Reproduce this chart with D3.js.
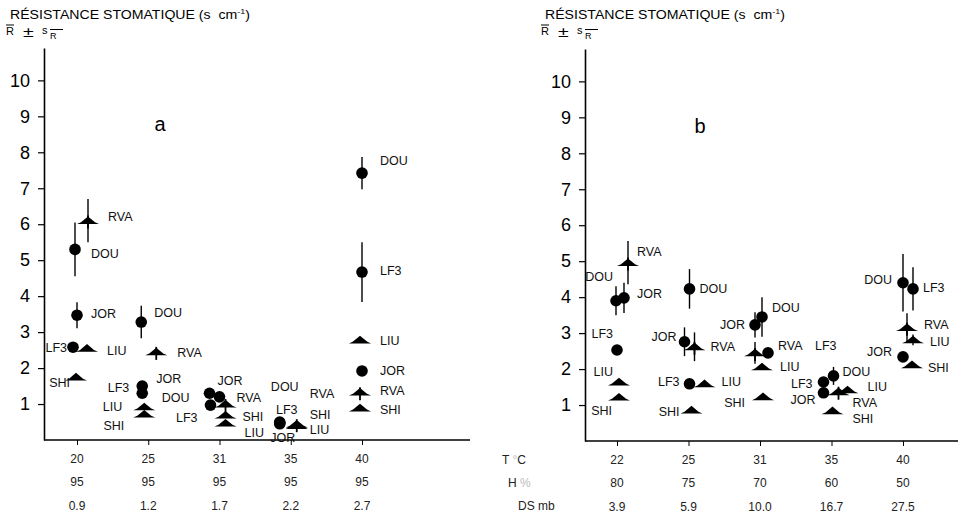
<!DOCTYPE html>
<html>
<head>
<meta charset="utf-8">
<script src="https://cdn.jsdelivr.net/npm/d3@7"></script>
<style>
body { margin: 0; background: #fff; }
svg { display: block; font-family: "Liberation Sans", Arial, sans-serif; }
.lbl { font-size: 12.5px; fill: #111; }
.row { font-size: 12px; fill: #222; }
</style>
</head>
<body>
<svg width="972" height="516"></svg>
<script>
// clones, same order in every table below
var clones = ['DOU', 'JOR', 'LF3', 'LIU', 'RVA', 'SHI'];
var shapes = ['circle', 'circle', 'circle', 'hat', 'plane', 'hat'];
var yTicks = [1, 2, 3, 4, 5, 6, 7, 8, 9, 10];

// panel a
var tempA = ['20', '25', '31', '35', '40'];
var humA = ['95', '95', '95', '95', '95'];
var dsA = ['0.9', '1.2', '1.7', '2.2', '2.7'];
var meanA = [
    [5.3, 3.28, 1.2, 0.5, 7.42],    // DOU
    [3.47, 1.5, 1.3, 0.45, 1.92],   // JOR
    [2.58, 1.3, 0.97, 0.48, 4.67],  // LF3
    [2.55, 0.92, 0.47, 0.4, 2.78],  // LIU
    [6.1, 2.45, 1.0, 0.44, 1.33],   // RVA
    [1.75, 0.72, 0.69, 0.42, 0.89]  // SHI
];
var errA = [
    [0.75, 0.45, 0, 0, 0.45],
    [0.36, 0, 0, 0, 0],
    [0, 0, 0, 0, 0.83],
    [0, 0, 0, 0, 0],
    [0.6, 0, 0, 0, 0],
    [0, 0, 0, 0, 0]
];

// panel b
var tempB = ['22', '25', '31', '35', '40'];
var humB = ['80', '75', '70', '60', '50'];
var dsB = ['3.9', '5.9', '10.0', '16.7', '27.5'];
var meanB = [
    [3.9, 4.23, 3.45, 1.81, 4.4],   // DOU
    [3.98, 2.76, 3.23, 1.34, 2.34], // JOR
    [2.53, 1.59, 2.45, 1.64, 4.23], // LF3
    [1.64, 1.59, 2.06, 1.42, 2.81], // LIU
    [4.96, 2.62, 2.45, 1.37, 3.15], // RVA
    [1.22, 0.86, 1.23, 0.84, 2.12]  // SHI
];
var errB = [
    [0.4, 0.55, 0.55, 0.25, 0.8],
    [0.42, 0.4, 0.35, 0, 0],
    [0, 0, 0, 0, 0.6],
    [0, 0, 0, 0, 0.15],
    [0.6, 0.4, 0.3, 0, 0.4],
    [0, 0, 0, 0, 0]
];

// layout: horizontal nudge of each marker (px) and label placement [dx, dy, anchor]
var nudgeA = [
    [-2, -7, 0, -11, 0],
    [0, -6, -10, -11, 0],
    [-4, -6, -9, -11, 0],
    [10, -4, 6, 6, -2],
    [11, 8, 6, 6, -2],
    [-1, -4, 6, 6, -2]
];
var labA = [
    [[16, 4, 'start'], [13, -10, 'start'], [-30, 1, 'end'], [5, -36, 'middle'], [18, -13, 'start']],
    [[14, -2, 'start'], [14, -8, 'start'], [8, -13, 'start'], [3, 14, 'middle'], [18, 0, 'start']],
    [[-6, 0, 'end'], [-13, -6, 'end'], [-13, 12, 'end'], [7, -13, 'middle'], [18, -2, 'start']],
    [[20, 2, 'start'], [-22, 0, 'end'], [19, 9, 'start'], [13, 4, 'start'], [20, 0, 'start']],
    [[20, -4, 'start'], [21, 1, 'start'], [11, -7, 'start'], [13, -31, 'start'], [20, -2, 'start']],
    [[-6, 5, 'end'], [-20, 11, 'end'], [17, 1, 'start'], [13, -10, 'start'], [20, 2, 'start']]
];
var nudgeB = [
    [-1, 1, 2, 2, 0],
    [7, -4, -5, -8, 0],
    [0, 1, 8, -8, 10],
    [2, 16, 2, 16, 10],
    [11, 6, -5, 7, 4],
    [2, 3, 3, 1, 9]
];
var labB = [
    [[-3, -24, 'end'], [10, 0, 'start'], [10, -9, 'start'], [9, -4, 'start'], [-11, -3, 'end']],
    [[13, -4, 'start'], [-8, -5, 'end'], [-10, 0, 'end'], [-8, 7, 'end'], [-11, -5, 'end']],
    [[-4, -17, 'end'], [-10, -2, 'end'], [47, -7, 'start'], [-11, 1, 'end'], [10, -1, 'start']],
    [[-6, -11, 'end'], [17, -2, 'start'], [18, 0, 'start'], [20, -3, 'start'], [17, 2, 'start']],
    [[9, -11, 'start'], [16, 0, 'start'], [23, -7, 'start'], [14, 11, 'start'], [17, -3, 'start']],
    [[-7, 13, 'end'], [-12, 1, 'end'], [-18, 6, 'end'], [20, 8, 'start'], [16, 3, 'start']]
];

var hatPath = 'M-11,3.4 L-7,1.6 L0,-4.2 L7,1.6 L11,3.4 Z';

var svg = d3.select('svg');

drawPanel({temps: tempA, hum: humA, ds: dsA, mean: meanA, err: errA, nudge: nudgeA, lab: labA,
    ax: 44, axEnd: 470, xRange: [77, 362], y0: 440, base: 6, name: 'a', nameX: 160, nameY: 131});
drawPanel({temps: tempB, hum: humB, ds: dsB, mean: meanB, err: errB, nudge: nudgeB, lab: labB,
    ax: 585, axEnd: 958, xRange: [617, 903], y0: 441, base: 541, name: 'b', nameX: 700, nameY: 133});

// row headers
var rh = svg.append('g').attr('class', 'row');
var th = rh.append('text').attr('x', 502).attr('y', 464).text('T ');
th.append('tspan').attr('fill', '#bbb').text('°');
th.append('tspan').text('C');
rh.append('text').attr('x', 508).attr('y', 487).text('H ').append('tspan').attr('fill', '#bbb').text('%');
rh.append('text').attr('x', 518).attr('y', 510).text('DS mb');

function drawPanel(p) {
    var x = d3.scalePoint().domain(p.temps).range(p.xRange);
    var y = d3.scaleLinear().domain([0, 10.9]).range([p.y0, p.y0 - 392]);
    var g = svg.append('g');

    // title
    var t = g.append('text').attr('x', p.base + 4).attr('y', 19)
        .attr('font-size', 12.5).attr('textLength', 240).attr('lengthAdjust', 'spacingAndGlyphs');
    t.append('tspan').text('RÉSISTANCE STOMATIQUE (s\u00A0\u00A0cm');
    t.append('tspan').attr('font-size', 8).attr('dy', -5).text('-1');
    t.append('tspan').attr('dy', 5).text(')');

    // R ± sR
    var s = g.append('g').attr('transform', 'translate(' + p.base + ',0)');
    s.append('text').attr('x', 0).attr('y', 35).attr('font-size', 11).text('R');
    s.append('line').attr('x1', 0).attr('x2', 8).attr('y1', 25).attr('y2', 25).attr('stroke', '#000');
    s.append('text').attr('x', 17).attr('y', 37).attr('font-size', 15)
        .attr('transform', 'translate(17,37) scale(1.3,1) translate(-17,-37)').text('±');
    s.append('text').attr('x', 36).attr('y', 34).attr('font-size', 11).text('s');
    s.append('text').attr('x', 44).attr('y', 39).attr('font-size', 9).text('R');
    s.append('line').attr('x1', 44).attr('x2', 57).attr('y1', 29.5).attr('y2', 29.5).attr('stroke', '#000');

    // panel letter
    g.append('text').attr('x', p.nameX).attr('y', p.nameY).attr('text-anchor', 'middle')
        .attr('font-size', 20).text(p.name);

    // y axis
    var ya = g.append('g').attr('transform', 'translate(' + p.ax + ',0)')
        .call(d3.axisLeft(y).tickValues(yTicks).tickSize(6).tickSizeOuter(0).tickPadding(8).tickFormat(d3.format('d')));
    ya.attr('font-family', null).attr('font-size', 18);
    ya.select('.domain').attr('stroke-width', 1.6);
    ya.selectAll('.tick line').attr('stroke-width', 1.2);

    // x axis
    g.append('line').attr('x1', p.ax).attr('x2', p.axEnd).attr('y1', y(0)).attr('y2', y(0))
        .attr('stroke', '#000').attr('stroke-width', 1.6);
    var xa = g.append('g').attr('transform', 'translate(0,' + y(0) + ')')
        .call(d3.axisBottom(x).tickSize(5).tickFormat(''));
    xa.select('.domain').remove();

    var rows = [p.temps, p.hum, p.ds];
    rows.forEach(function(r, k) {
        g.selectAll('text.r' + k).data(r).enter().append('text')
            .attr('class', 'row r' + k)
            .attr('x', function(d, j) { return x(p.temps[j]); })
            .attr('y', y(0) + 23 + k * 23.3)
            .attr('text-anchor', 'middle')
            .text(function(d) { return d; });
    });

    // points
    var pts = [];
    clones.forEach(function(c, i) {
        p.temps.forEach(function(tt, j) {
            pts.push({clone: c, shape: shapes[i], t: tt, v: p.mean[i][j], e: p.err[i][j],
                dx: p.nudge[i][j], lab: p.lab[i][j]});
        });
    });
    var px = function(d) { return x(d.t) + d.dx; };

    g.selectAll('line.err').data(pts.filter(function(d) { return d.e > 0; })).enter().append('line')
        .attr('class', 'err')
        .attr('x1', px).attr('x2', px)
        .attr('y1', function(d) { return y(d.v + d.e); })
        .attr('y2', function(d) { return y(d.v - d.e); })
        .attr('stroke', '#000').attr('stroke-width', 1.4);

    g.selectAll('circle.pt').data(pts.filter(function(d) { return d.shape == 'circle'; })).enter().append('circle')
        .attr('class', 'pt')
        .attr('cx', px).attr('cy', function(d) { return y(d.v); })
        .attr('r', 5.8).attr('fill', '#000');

    var tri = g.selectAll('g.tri').data(pts.filter(function(d) { return d.shape != 'circle'; })).enter().append('g')
        .attr('class', 'tri')
        .attr('transform', function(d) { return 'translate(' + px(d) + ',' + y(d.v) + ')'; });
    tri.append('path').attr('d', hatPath).attr('fill', '#000');
    tri.filter(function(d) { return d.shape == 'plane'; }).append('line')
        .attr('x1', 0).attr('x2', 0).attr('y1', -5).attr('y2', 8)
        .attr('stroke', '#000').attr('stroke-width', 1.8);

    g.selectAll('text.lbl').data(pts).enter().append('text')
        .attr('class', 'lbl')
        .attr('x', function(d) { return px(d) + d.lab[0]; })
        .attr('y', function(d) { return y(d.v) + d.lab[1]; })
        .attr('dy', '0.36em')
        .attr('text-anchor', function(d) { return d.lab[2]; })
        .text(function(d) { return d.clone; });
}
</script>
</body>
</html>
